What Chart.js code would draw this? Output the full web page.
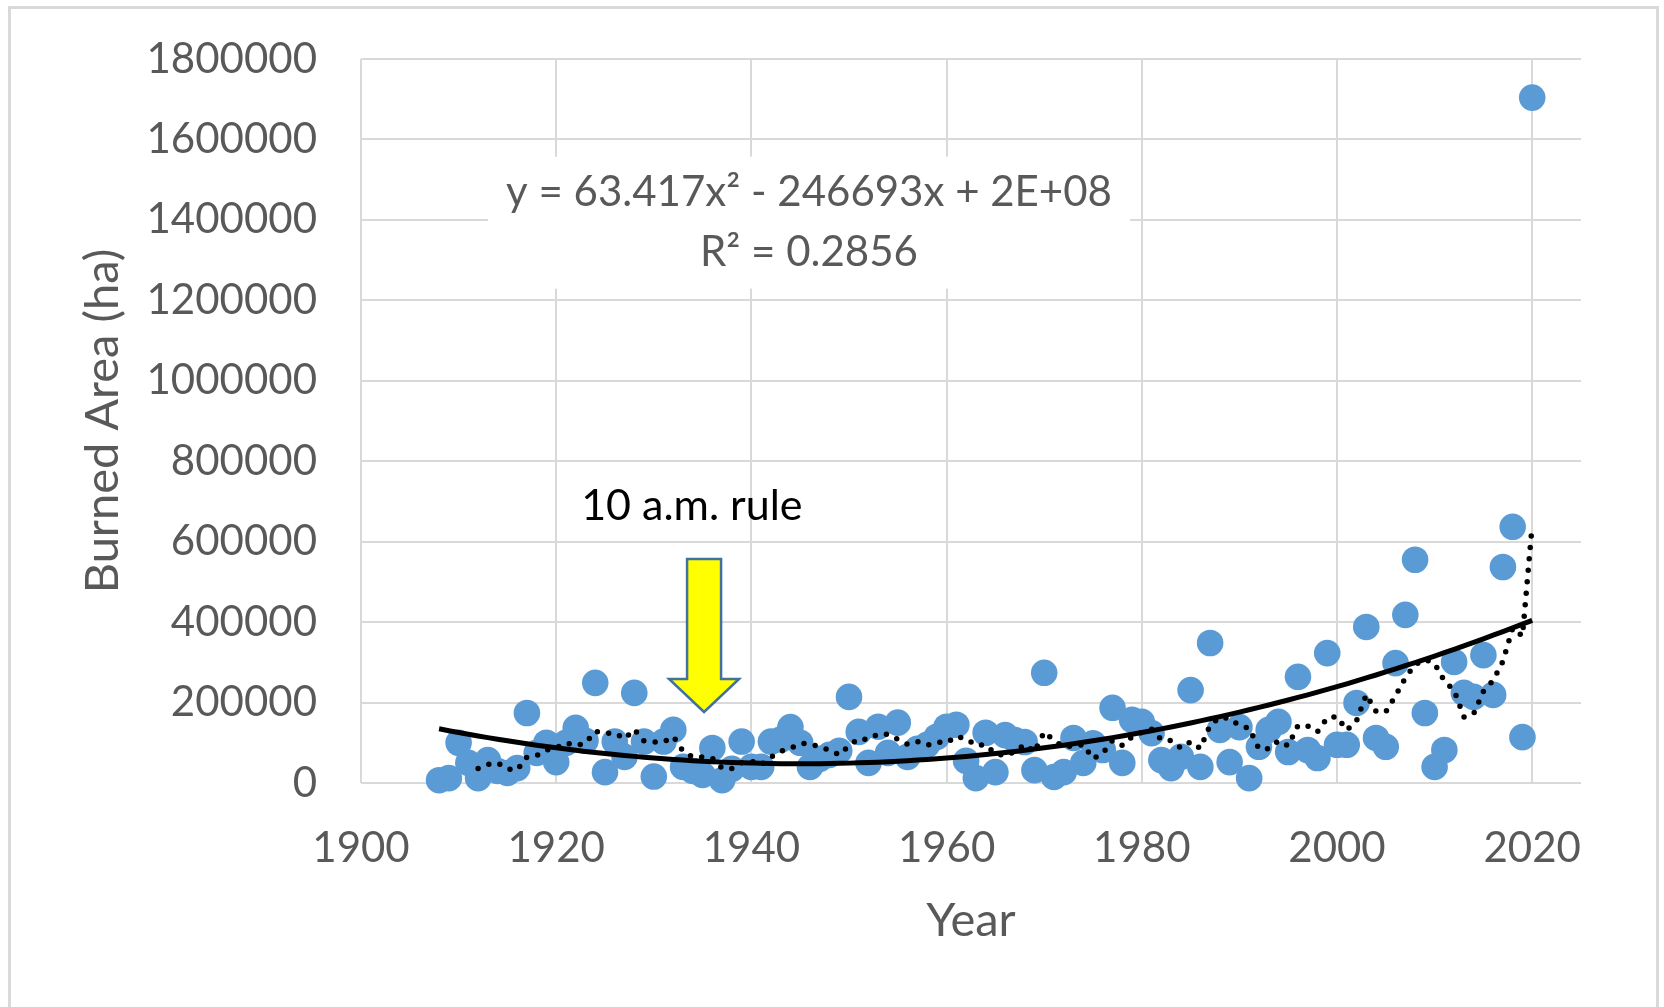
<!DOCTYPE html>
<html>
<head>
<meta charset="utf-8">
<script src="https://cdn.jsdelivr.net/npm/chart.js@4.4.1/dist/chart.umd.min.js"></script>
<style>
  html, body { margin: 0; padding: 0; background: #fff; }
</style>
</head>
<body>
<canvas id="fireChart" width="1664" height="1007"></canvas>
<script>
// annual burned area (ha), one value per year starting at firstYear
const firstYear = 1908;
const burnedArea = [
  7000, 12000, 100000, 50000, 12000, 57000, 30000, 25000, 37000, 174000,          // 1908-1917
  75000, 100000, 52000, 100000, 137000, 105000, 249000, 27000, 103000, 65000,     // 1918-1927
  224000, 103000, 16000, 103000, 132000, 40000, 30000, 20000, 87000, 7000,        // 1928-1937
  35000, 103000, 40000, 40000, 103000, 108000, 139000, 100000, 40000, 60000,      // 1938-1947
  70000, 80000, 214000, 127000, 50000, 140000, 75000, 150000, 65000, 85000,       // 1948-1957
  95000, 115000, 140000, 145000, 55000, 12000, 125000, 27000, 119000, 107000,     // 1958-1967
  102000, 32000, 274000, 15000, 27000, 112000, 50000, 99000, 82000, 187000,       // 1968-1977
  50000, 157000, 152000, 124000, 57000, 37000, 65000, 231000, 40000, 348000,      // 1978-1987
  132000, 52000, 139000, 12000, 90000, 132000, 152000, 77000, 264000, 82000,      // 1988-1997
  62000, 323000, 95000, 95000, 199000, 388000, 112000, 90000, 298000, 418000,     // 1998-2007
  555000, 174000, 40000, 82000, 301000, 224000, 214000, 318000, 219000, 537000,   // 2008-2017
  637000, 114000, 1704000                                                         // 2018-2020
];
const years = burnedArea.map((_, i) => firstYear + i);

const xTicks = [1900, 1920, 1940, 1960, 1980, 2000, 2020];
const yTicks = [0, 200000, 400000, 600000, 800000, 1000000, 1200000, 1400000, 1600000, 1800000];

// polynomial trend coefficients as printed on the chart
const fitA = 63.417;
const fitB = -246693;
const equationLines = ['y = 63.417x\u00B2 - 246693x + 2E+08', 'R\u00B2 = 0.2856'];
const ruleLabel = '10 a.m. rule';
const maPeriod = 5;

// constant term: least squares with a and b held fixed
const fitC = burnedArea.reduce((s, v, i) => s + v - fitA * years[i] * years[i] - fitB * years[i], 0) / burnedArea.length;
const trendPoints = years.map(x => ({ x: x, y: fitA * x * x + fitB * x + fitC }));

const movingAvg = [];
for (let i = maPeriod - 1; i < burnedArea.length; i++) {
  let sum = 0;
  for (let k = 0; k < maPeriod; k++) sum += burnedArea[i - k];
  movingAvg.push({ x: years[i], y: sum / maPeriod });
}

const scatterPoints = years.map((x, i) => ({ x: x, y: burnedArea[i] }));

const GREY_TEXT = '#595959';
const GRID = '#D9D9D9';
const FONT = 'Lato';

const chartDecor = {
  id: 'chartDecor',
  beforeDraw(chart) {
    const ctx = chart.ctx;
    ctx.save();
    ctx.fillStyle = '#fff';
    ctx.fillRect(0, 0, chart.width, chart.height);
    ctx.strokeStyle = GRID;
    ctx.lineWidth = 3;
    ctx.strokeRect(9.5, 7.5, 1648, 1100);
    ctx.restore();
  },
  afterDatasetsDraw(chart) {
    const ctx = chart.ctx;
    const xs = chart.scales.x, ys = chart.scales.y;
    ctx.save();

    // equation label with white backing over the gridlines
    const ex = xs.getPixelForValue(1945.9);
    const ey = ys.getPixelForValue(1393000);
    ctx.fillStyle = '#fff';
    ctx.fillRect(ex - 321, ey - 66, 642, 132);
    ctx.fillStyle = GREY_TEXT;
    ctx.font = '42px ' + FONT;
    ctx.textAlign = 'center';
    ctx.textBaseline = 'middle';
    ctx.fillText(equationLines[0], ex, ey - 30);
    ctx.fillText(equationLines[1], ex, ey + 30);

    // yellow arrow pointing down
    const tx = xs.getPixelForValue(1935.15);
    const ty = ys.getPixelForValue(176600);
    ctx.beginPath();
    ctx.moveTo(tx, ty);
    ctx.lineTo(tx - 35, ty - 33);
    ctx.lineTo(tx - 17, ty - 33);
    ctx.lineTo(tx - 17, ty - 153);
    ctx.lineTo(tx + 17, ty - 153);
    ctx.lineTo(tx + 17, ty - 33);
    ctx.lineTo(tx + 35, ty - 33);
    ctx.closePath();
    ctx.fillStyle = '#FFFF00';
    ctx.fill();
    ctx.strokeStyle = '#41719C';
    ctx.lineWidth = 2.5;
    ctx.lineJoin = 'miter';
    ctx.stroke();

    ctx.fillStyle = '#000';
    ctx.font = '43px ' + FONT;
    ctx.fillText(ruleLabel, xs.getPixelForValue(1933.9), ys.getPixelForValue(689000));
    ctx.restore();
  }
};

new Chart(document.getElementById('fireChart'), {
  type: 'scatter',
  data: {
    datasets: [
      {
        label: 'Poly. trend',
        data: trendPoints,
        showLine: true,
        borderColor: '#000',
        borderWidth: 5,
        pointRadius: 0,
        tension: 0,
        order: 0
      },
      {
        label: '5 per. Mov. Avg.',
        data: movingAvg,
        showLine: true,
        borderColor: '#000',
        borderWidth: 5.5,
        borderDash: [0, 11.5],
        borderCapStyle: 'round',
        pointRadius: 0,
        tension: 0,
        order: 1
      },
      {
        label: 'Burned Area',
        data: scatterPoints,
        backgroundColor: '#5B9BD5',
        borderWidth: 0,
        pointRadius: 13.3,
        pointHoverRadius: 13.3,
        clip: false,
        order: 2
      }
    ]
  },
  options: {
    responsive: false,
    animation: false,
    devicePixelRatio: 1,
    layout: { padding: { left: 0, top: 59, right: 83, bottom: 0 } },
    plugins: {
      legend: { display: false },
      tooltip: { enabled: false }
    },
    scales: {
      x: {
        type: 'linear',
        min: 1900,
        max: 2025,
        afterBuildTicks: s => { s.ticks = xTicks.map(v => ({ value: v })); },
        afterFit: s => { s.height = 224; },
        grid: { color: GRID, lineWidth: 2, drawTicks: false },
        border: { display: false },
        ticks: { font: { family: FONT, size: 42 }, color: GREY_TEXT, padding: 40, maxRotation: 0, callback: v => String(v) },
        title: { display: true, text: 'Year', font: { family: FONT, size: 47 }, color: GREY_TEXT, padding: { top: 0, bottom: 58 } }
      },
      y: {
        min: 0,
        max: 1800000,
        afterBuildTicks: s => { s.ticks = yTicks.map(v => ({ value: v })); },
        // fixed axis width; drop the label overhang so the plot top sits at the layout padding
        afterFit: s => { s.width = 361; s.paddingTop = 0; s.paddingBottom = 0; },
        grid: { color: GRID, lineWidth: 2, drawTicks: false },
        border: { display: false },
        ticks: { font: { family: FONT, size: 42 }, color: GREY_TEXT, padding: 44, callback: v => String(v) },
        title: { display: true, text: 'Burned Area (ha)', font: { family: FONT, size: 47 }, color: GREY_TEXT, padding: { top: 75, bottom: 0 } }
      }
    }
  },
  plugins: [chartDecor]
});
</script>
</body>
</html>
